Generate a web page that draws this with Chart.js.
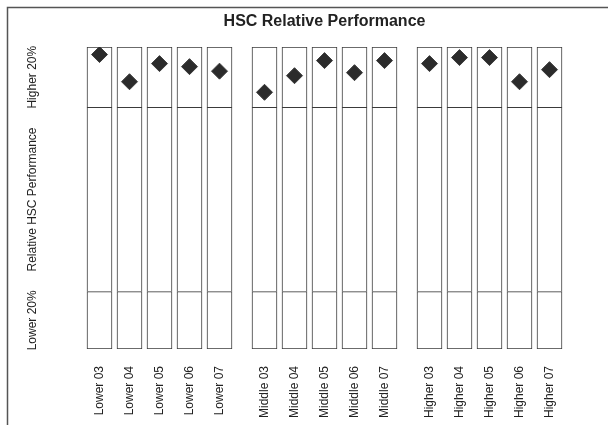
<!DOCTYPE html>
<html>
<head>
<meta charset="utf-8">
<script src="https://cdn.jsdelivr.net/npm/chart.js@4"></script>
<style>
  html, body { margin: 0; padding: 0; background: #fff; }
  #wrap { width: 608px; height: 425px; }
</style>
</head>
<body>
<div id="wrap"><canvas id="hsc"></canvas></div>
<script>
// categories
const groups = ['Lower', 'Middle', 'Higher'];
const years = ['03', '04', '05', '06', '07'];
const categories = groups.flatMap(g => years.map(y => g + ' ' + y));

// relative HSC performance (0 = bottom, 100 = top of box)
const scores = [97.5, 88.5, 94.5, 93.5, 92, 85, 90.5, 95.5, 91.5, 95.5, 94.5, 96.5, 96.5, 88.5, 92.5];

// band boundaries and their labels
const bandEdges = [0, 19, 80, 100];
const bandLabels = ['Lower 20%', 'Relative HSC Performance', 'Higher 20%'];

// x position: one slot per year, half a slot extra between groups
const xPos = categories.map((c, i) => Math.floor(i / 5) * 5.5 + (i % 5));

const font = "'Liberation Sans', Arial, sans-serif";

const bandSets = bandLabels.map((label, b) => ({
  type: 'bar',
  label: label,
  data: xPos.map(x => ({ x: x, y: [bandEdges[b], bandEdges[b + 1]] })),
  backgroundColor: '#ffffff',
  borderColor: '#3a3a3a',
  borderWidth: 1,
  borderSkipped: b === 0 ? false : 'bottom',
  barThickness: 25,
  grouped: false,
  order: 2
}));

const frameAndLabels = {
  id: 'frameAndLabels',
  afterDraw(chart) {
    const ctx = chart.ctx;
    const y = chart.scales.y;
    ctx.save();
    ctx.strokeStyle = '#555';
    ctx.lineWidth = 1.5;
    ctx.beginPath();
    ctx.moveTo(7.5, 425);
    ctx.lineTo(7.5, 7.5);
    ctx.lineTo(608, 7.5);
    ctx.stroke();

    ctx.fillStyle = '#222';
    ctx.font = '12px ' + font;
    ctx.textAlign = 'center';
    ctx.textBaseline = 'middle';
    bandLabels.forEach((t, b) => {
      const cy = y.getPixelForValue((bandEdges[b] + bandEdges[b + 1]) / 2);
      ctx.save();
      ctx.translate(33, cy);
      ctx.rotate(-Math.PI / 2);
      ctx.fillText(t, 0, 0);
      ctx.restore();
    });
    ctx.restore();
  }
};

new Chart(document.getElementById('hsc'), {
  data: {
    datasets: [
      ...bandSets,
      {
        type: 'scatter',
        label: 'Score',
        data: xPos.map((x, i) => ({ x: x, y: scores[i] })),
        pointStyle: 'rectRot',
        pointRadius: 8,
        pointHoverRadius: 8,
        backgroundColor: '#2b2b2b',
        borderColor: '#3c3c3c',
        borderWidth: 1,
        order: 1
      }
    ]
  },
  options: {
    responsive: true,
    maintainAspectRatio: false,
    animation: false,
    layout: { padding: { left: 84.5, right: 43.5, top: 0, bottom: 0 } },
    plugins: {
      legend: { display: false },
      tooltip: { enabled: false },
      title: {
        display: true,
        text: 'HSC Relative Performance',
        fullSize: false,
        color: '#222',
        font: { family: font, size: 16, weight: 'bold' },
        padding: { top: 12, bottom: 15.8 }
      }
    },
    scales: {
      x: {
        type: 'linear',
        min: -0.5,
        max: 15.5,
        offset: false,
        grid: { display: false, drawTicks: false },
        border: { display: false },
        afterBuildTicks: axis => { axis.ticks = xPos.map(v => ({ value: v })); },
        afterFit: axis => { axis.height = 76; },
        ticks: {
          autoSkip: false,
          minRotation: 90,
          maxRotation: 90,
          padding: 17,
          color: '#222',
          font: { family: font, size: 12 },
          callback: v => categories[xPos.indexOf(v)]
        }
      },
      y: {
        display: false,
        min: 0,
        max: 100
      }
    }
  },
  plugins: [frameAndLabels]
});
</script>
</body>
</html>
